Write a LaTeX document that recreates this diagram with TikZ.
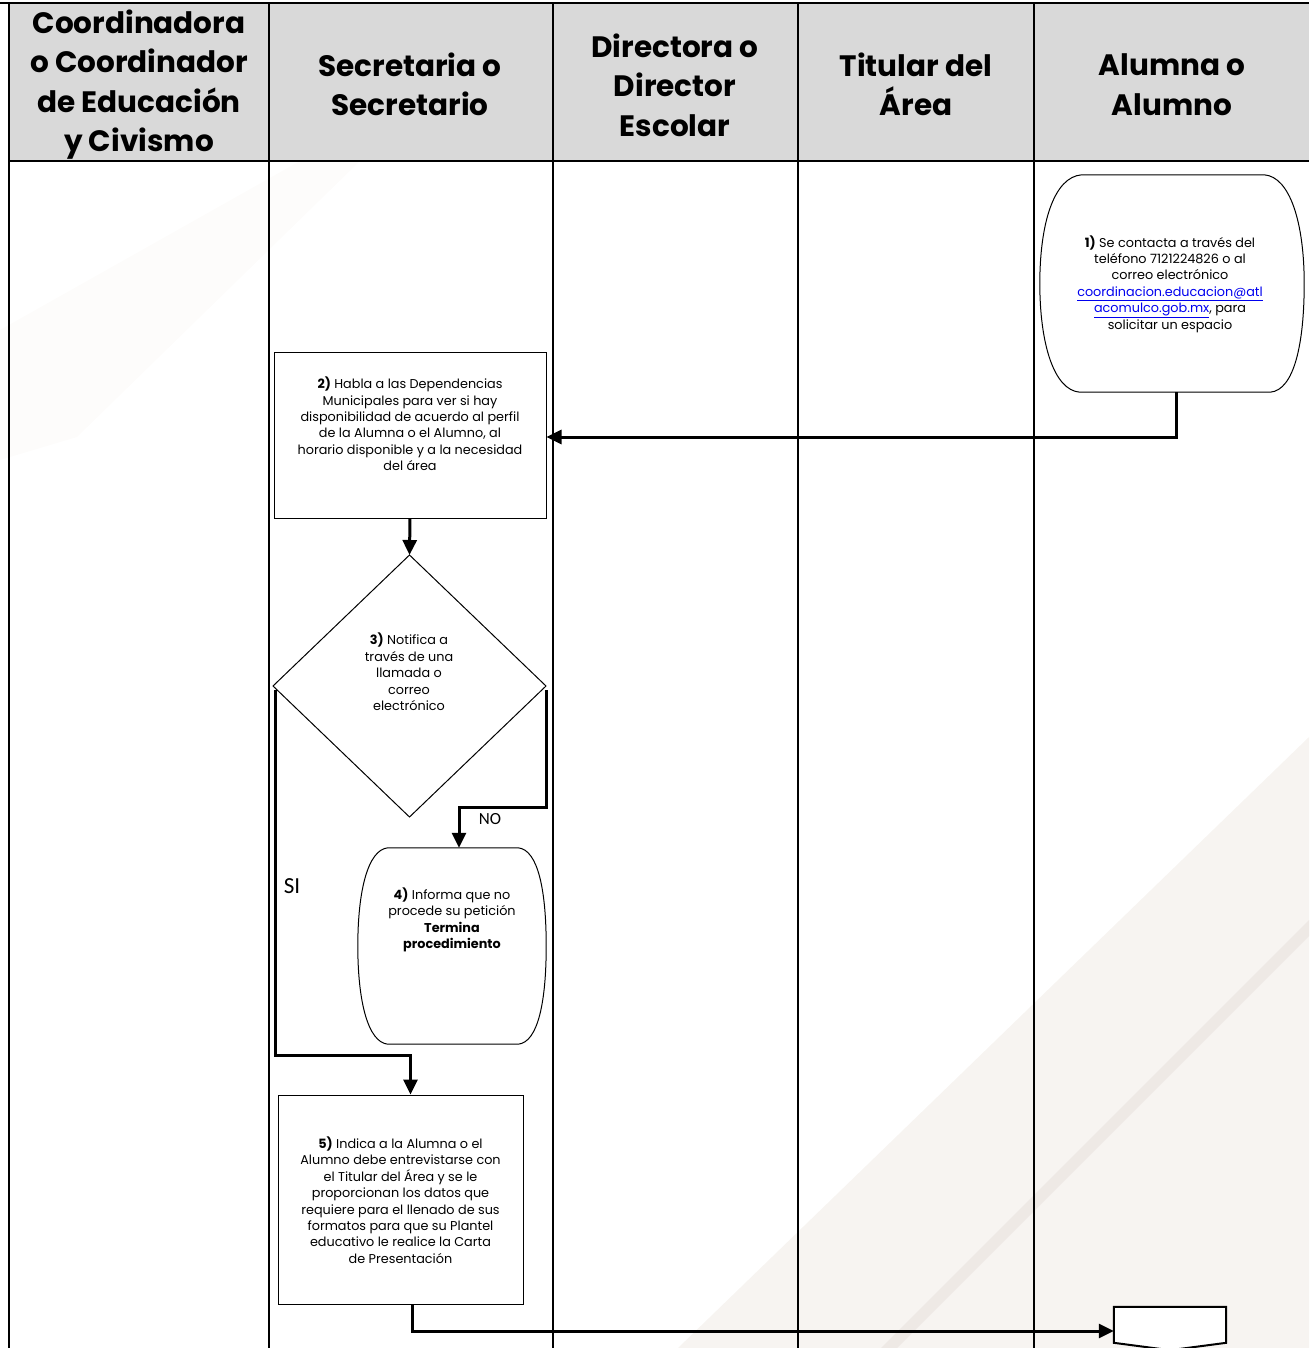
\documentclass[tikz,border=0pt]{standalone}
\usepackage{fontspec}
\setmainfont{Poppins}
\newfontfamily\calib{Carlito}
\usetikzlibrary{arrows.meta,calc}
\definecolor{hdr}{HTML}{D9D9D9}
\definecolor{wmA}{HTML}{F7F4F1}
\definecolor{wmB}{HTML}{EEE9E5}
\definecolor{wmC}{HTML}{FDFCFB}
\definecolor{maillink}{HTML}{0000EE}
\begin{document}
\begin{tikzpicture}[x=1pt,y=-1pt,
  lane/.style={line width=2pt},
  flow/.style={line width=3pt,-{Triangle[length=15pt,width=14pt]}},
  boxtxt/.style={font=\fontsize{12.8}{16.4}\selectfont, align=center, inner sep=0pt},
  hdrtxt/.style={font=\fontsize{29.5}{39.5}\selectfont\bfseries, align=center, inner sep=0pt},
  thin/.style={line width=1pt},
  lbl/.style={font=\calib\fontsize{17}{18}\selectfont, inner sep=0pt}]
\useasboundingbox (0,0) rectangle (1309,1348);
% faint watermark
\fill[wmC] (0,330) -- (300,161) -- (360,161) -- (77,437) -- (0,460) -- cycle;
\fill[wmA] (678,1348) -- (1309,737) -- (1309,1348) -- cycle;
\fill[wmB] (881,1348) -- (1309,920) -- (1309,936) -- (897,1348) -- cycle;
% header
\fill[hdr] (9,3) rectangle (1309,161);
\draw[lane] (0,3) -- (1309,3);
\draw[lane] (9,161) -- (1309,161);
\foreach \xx in {9,269,553,798,1034} {\draw[lane] (\xx,3) -- (\xx,1348);}
\node[hdrtxt] (h1) at (139,84.5) {Coordinadora\\o Coordinador\\de Educación\\y Civismo};
\node[hdrtxt] (h2) at (410,84.5) {Secretaria o\\Secretario};
\node[hdrtxt] (h3) at (675,85) {Directora o\\Director\\Escolar};
\node[hdrtxt] (h4) at (916,84.5) {Titular del\\Área};
\node[hdrtxt] (h5) at (1172,84.5) {Alumna o\\Alumno};
% node 1
\node[minimum width=264pt, minimum height=217pt, inner sep=0pt] (n1) at (1172,283.5) {};
\draw[thin] ($(n1.north west)+(42,0)$) -- ($(n1.north east)+(-40,0)$)
  .. controls ($(n1.north east)+(-14,2)$) and ($(n1.east)+(0,-60)$) .. (n1.east)
  .. controls ($(n1.east)+(0,60)$) and ($(n1.south east)+(-10,-2)$) .. ($(n1.south east)+(-34,0)$)
  -- ($(n1.south west)+(40,0)$)
  .. controls ($(n1.south west)+(14,-2)$) and ($(n1.west)+(0,60)$) .. (n1.west)
  .. controls ($(n1.west)+(0,-60)$) and ($(n1.north west)+(14,2)$) .. ($(n1.north west)+(42,0)$);
\node[boxtxt] (t1) at (1170,284) {\textbf{1)} Se contacta a través del\\teléfono 7121224826 o al\\correo electrónico\\{\color{maillink}\underline{coordinacion.educacion@atl}}\\{\color{maillink}\underline{acomulco.gob.mx}}, para\\solicitar un espacio};
% node 2
\node[draw, thin, minimum width=272pt, minimum height=166pt, inner sep=0pt] (n2) at (410,435) {};
\node[boxtxt] (t2) at (410,424) {\textbf{2)} Habla a las Dependencias\\Municipales para ver si hay\\disponibilidad de acuerdo al perfil\\de la Alumna o el Alumno, al\\horario disponible y a la necesidad\\del área};
% node 3 diamond
\coordinate (n3) at (409.5,686);
\coordinate (n3n) at (409.5,555);
\coordinate (n3s) at (409.5,817);
\coordinate (n3w) at (273,686);
\coordinate (n3e) at (546,686);
\draw[thin] (n3n) -- (n3e) -- (n3s) -- (n3w) -- cycle;
\node[boxtxt] (t3) at (409,672) {\textbf{3)} Notifica a\\través de una\\llamada o\\correo\\electrónico};
% node 4
\node[minimum width=188pt, minimum height=196pt, inner sep=0pt] (n4) at (452,946) {};
\draw[thin] ($(n4.north west)+(30,0)$) -- ($(n4.north east)+(-28,0)$)
  .. controls ($(n4.north east)+(-8,2)$) and ($(n4.east)+(0,-55)$) .. (n4.east)
  .. controls ($(n4.east)+(0,55)$) and ($(n4.south east)+(-8,-2)$) .. ($(n4.south east)+(-28,0)$)
  -- ($(n4.south west)+(30,0)$)
  .. controls ($(n4.south west)+(10,-2)$) and ($(n4.west)+(0,55)$) .. (n4.west)
  .. controls ($(n4.west)+(0,-55)$) and ($(n4.north west)+(10,2)$) .. ($(n4.north west)+(30,0)$);
\node[boxtxt] (t4) at (452,920) {\textbf{4)} Informa que no\\procede su petición\\\textbf{Termina}\\\textbf{procedimiento}};
% node 5
\node[draw, thin, minimum width=245pt, minimum height=209pt, inner sep=0pt] (n5) at (400.5,1199.5) {};
\node[boxtxt] (t5) at (400.5,1200) {\textbf{5)} Indica a la Alumna o el\\Alumno debe entrevistarse con\\el Titular del Área y se le\\proporcionan los datos que\\requiere para el llenado de sus\\formatos para que su Plantel\\educativo le realice la Carta\\de Presentación};
% off-page connector
\node[minimum width=112pt, minimum height=43pt, inner sep=0pt] (n6) at (1170,1328.5) {};
\fill[white] (n6.north west) -- (n6.north east) -- ($(n6.north east)+(0,36)$) -- (n6.south) -- ($(n6.north west)+(0,36)$) -- cycle;
\draw[line width=2pt] (n6.north west) -- (n6.north east) -- ($(n6.north east)+(0,36)$) -- (n6.south) -- ($(n6.north west)+(0,36)$) -- cycle;
% connectors
\draw[flow] ($(n1.south)+(4,0)$) |- ($(n2.east)+(0,2)$);
\draw[flow] (n2.south) -- (n3n);
\draw[flow] ($(n3e)+(0,4)$) -- ($(n3e)+(0,121)$) -| ($(n4.north)+(7,0)$);
\draw[flow] ($(n3w)+(2,4)$) -- ($(n3w)+(2,369)$) -| ($(n5.north)+(10,0)$);
\draw[flow] ($(n5.south)+(12,0)$) |- ($(n6.west)+(0,2.5)$);
\node[lbl] (no) at (490,819) {NO};
\node[lbl, font=\calib\fontsize{23}{24}\selectfont] (si) at (292,886) {SI};
\end{tikzpicture}
\end{document}
